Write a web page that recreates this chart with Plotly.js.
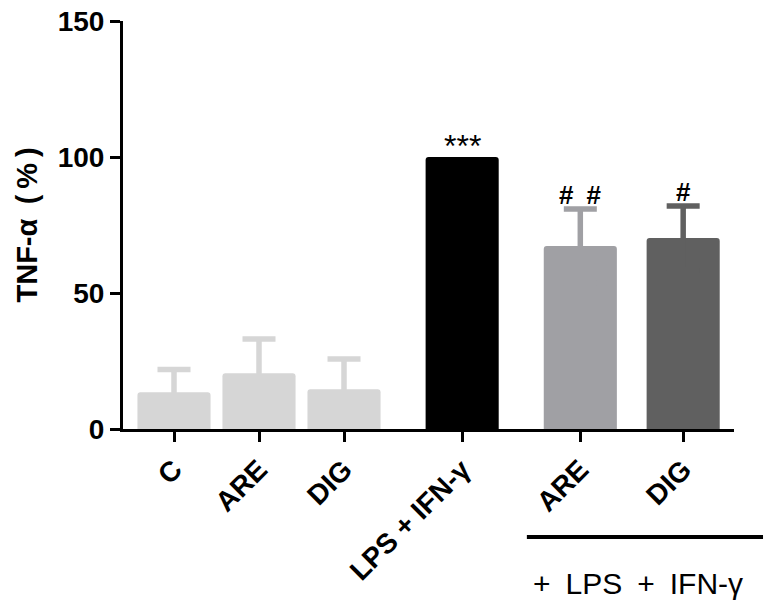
<!DOCTYPE html>
<html>
<head>
<meta charset="utf-8">
<script src="https://cdn.plot.ly/plotly-3.0.1.min.js"></script>
<style>html,body{margin:0;padding:0;background:#fff;} #chart{width:772px;height:611px;}</style>
</head>
<body>
<div id="chart"></div>
<script>
// ---- data ----
var categories = ['C', 'ARE', 'DIG', 'LPS + IFN-γ', 'ARE', 'DIG'];
var values = [13.5, 20.5, 14.6, 100, 67.3, 70.2];
var errorsUp = [8.4, 12.6, 11.1, null, 13.6, 11.8];
var significance = ['', '', '', '***', '#\u2002#', '#'];
var groupLabel = '+\u2002LPS\u2002+\u2002IFN-γ';

// ---- layout helpers (positions / styles) ----
var xpos = [0, 1, 2, 3.39, 4.78, 5.99];
var colors = ['#d6d6d6', '#d6d6d6', '#d6d6d6', '#000000', '#a0a0a4', '#606060'];
var FONT = 'Arial, "Liberation Sans", Helvetica, sans-serif';

var traces = categories.map(function (c, i) {
  return {
    type: 'bar',
    x: [xpos[i]],
    y: [values[i]],
    width: 0.86,
    marker: {color: colors[i], line: {width: 0}, cornerradius: 3},
    error_y: {
      type: 'data',
      array: [errorsUp[i]],
      symmetric: true,          // lower half hidden inside same-coloured bar
      visible: errorsUp[i] !== null,
      color: colors[i],
      thickness: 5.5,
      width: 16.5
    },
    hoverinfo: 'skip',
    showlegend: false
  };
});

var annotations = [];
significance.forEach(function (s, i) {
  if (!s) return;
  var top = values[i] + (errorsUp[i] || 0);
  var star = s === '***';
  annotations.push({
    x: xpos[i], y: top, xref: 'x', yref: 'y',
    text: s, showarrow: false,
    yanchor: 'bottom', yshift: star ? -9 : -3,
    font: {family: FONT, size: star ? 32 : 26, color: '#000', weight: star ? 'normal' : 'bold'}
  });
});
annotations.push({
  x: 0.843, y: -0.378, xref: 'paper', yref: 'paper',
  text: groupLabel, showarrow: false,
  xanchor: 'center', yanchor: 'middle',
  font: {family: FONT, size: 30, color: '#000'}
});

var layout = {
  width: 772, height: 611,
  margin: {l: 123, r: 38, t: 21, b: 182},
  paper_bgcolor: '#fff', plot_bgcolor: '#fff',
  barmode: 'overlay',
  font: {family: FONT, color: '#000'},
  xaxis: {
    range: [-0.6, 6.588],
    tickvals: xpos,
    ticktext: categories,
    tickangle: -45,
    tickfont: {family: FONT, size: 28, weight: 'bold', color: '#000'},
    ticks: 'outside', ticklen: 10, tickwidth: 3, tickcolor: '#000',
    showline: true, linewidth: 3, linecolor: '#000',
    showgrid: false, zeroline: false, fixedrange: true
  },
  yaxis: {
    range: [0, 150],
    tickvals: [0, 50, 100, 150],
    tickfont: {family: FONT, size: 28, weight: 'bold', color: '#000'},
    ticks: 'outside', ticklen: 10, tickwidth: 3, tickcolor: '#000',
    showline: true, linewidth: 3, linecolor: '#000',
    showgrid: false, zeroline: false, fixedrange: true,
    title: {text: 'TNF-α\u2002(\u2009%\u2009)', font: {family: FONT, size: 29, weight: 'bold', color: '#000'}, standoff: 12}
  },
  shapes: [{
    type: 'line', xref: 'paper', yref: 'paper',
    x0: 0.661, x1: 1.0475, y0: -0.265, y1: -0.265,
    line: {color: '#000', width: 4}
  }],
  annotations: annotations
};

Plotly.newPlot('chart', traces, layout, {displayModeBar: false, staticPlot: true});
</script>
</body>
</html>
